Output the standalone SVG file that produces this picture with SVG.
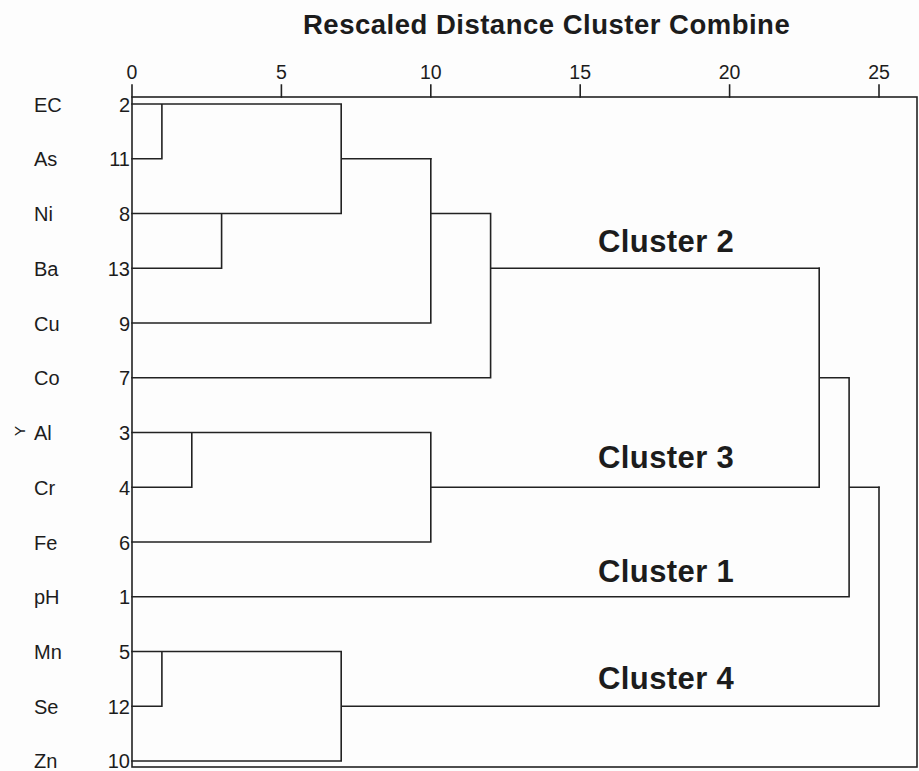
<svg xmlns="http://www.w3.org/2000/svg" width="919" height="771" viewBox="0 0 919 771">
<style>
.bg{fill:#fdfdfd}
.ln{fill:none;stroke:#222;stroke-width:1.6;stroke-linecap:square}
.title{font-family:"Liberation Sans",Arial,sans-serif;font-weight:bold;font-size:27.5px;letter-spacing:0.5px;fill:#1c1c1c}
.tick{font-family:"Liberation Sans",Arial,sans-serif;font-size:19.5px;fill:#1c1c1c;text-anchor:middle}
.lab{font-family:"Liberation Sans",Arial,sans-serif;font-size:20px;fill:#1c1c1c}
.num{font-family:"Liberation Sans",Arial,sans-serif;font-size:20px;fill:#1c1c1c;text-anchor:end}
.cl{font-family:"Liberation Sans",Arial,sans-serif;font-weight:bold;font-size:31px;letter-spacing:0.4px;fill:#1c1c1c}
</style>
<rect class="bg" x="0" y="0" width="919" height="771"/>
<text class="title" x="303" y="34">Rescaled Distance Cluster Combine</text>
<g id="axis">
<rect class="ln" x="132" y="97" width="785" height="670"/>
<path class="ln" d="M132,85V97M281.4,85V97M430.8,85V97M580.2,85V97M729.6,85V97M879,85V97"/>
<text class="tick" x="132" y="79">0</text>
<text class="tick" x="281.4" y="79">5</text>
<text class="tick" x="430.8" y="79">10</text>
<text class="tick" x="580.2" y="79">15</text>
<text class="tick" x="729.6" y="79">20</text>
<text class="tick" x="879" y="79">25</text>
</g>
<text class="lab" transform="translate(25,431) rotate(-90)" text-anchor="middle" style="font-size:15px">Y</text>
<g id="leaf-EC"><text class="lab" x="34" y="111.5">EC</text><text class="num" x="130" y="111.5">2</text></g>
<g id="leaf-As"><text class="lab" x="34" y="166">As</text><text class="num" x="130" y="166">11</text></g>
<g id="leaf-Ni"><text class="lab" x="34" y="221">Ni</text><text class="num" x="130" y="221">8</text></g>
<g id="leaf-Ba"><text class="lab" x="34" y="275.5">Ba</text><text class="num" x="130" y="275.5">13</text></g>
<g id="leaf-Cu"><text class="lab" x="34" y="330.5">Cu</text><text class="num" x="130" y="330.5">9</text></g>
<g id="leaf-Co"><text class="lab" x="34" y="385">Co</text><text class="num" x="130" y="385">7</text></g>
<g id="leaf-Al"><text class="lab" x="34" y="440">Al</text><text class="num" x="130" y="440">3</text></g>
<g id="leaf-Cr"><text class="lab" x="34" y="494.5">Cr</text><text class="num" x="130" y="494.5">4</text></g>
<g id="leaf-Fe"><text class="lab" x="34" y="549.5">Fe</text><text class="num" x="130" y="549.5">6</text></g>
<g id="leaf-pH"><text class="lab" x="34" y="604">pH</text><text class="num" x="130" y="604">1</text></g>
<g id="leaf-Mn"><text class="lab" x="34" y="659">Mn</text><text class="num" x="130" y="659">5</text></g>
<g id="leaf-Se"><text class="lab" x="34" y="713.5">Se</text><text class="num" x="130" y="713.5">12</text></g>
<g id="leaf-Zn"><text class="lab" x="34" y="768">Zn</text><text class="num" x="130" y="768">10</text></g>
<g id="connectors">
<path class="ln" d="M132,104H341.2M132,158.75H161.9V104M132,213.5H341.2M132,268.25H221.6V213.5M341.2,104V213.5M341.2,158.75H430.8"/>
<path class="ln" d="M132,323H430.8M430.8,158.75V323M430.8,213.5H490.6M132,377.75H490.6M490.6,213.5V377.75M490.6,268.25H819.2"/>
<path class="ln" d="M132,432.5H430.8M132,487.25H191.8V432.5M132,542H430.8M430.8,432.5V542M430.8,487.25H819.2"/>
<path class="ln" d="M819.2,268.25V487.25M819.2,377.75H849.1M132,596.75H849.1M849.1,377.75V596.75M849.1,487.25H879"/>
<path class="ln" d="M132,651.5H341.2M132,706.25H161.9V651.5M132,761H341.2M341.2,651.5V761M341.2,706.25H879M879,487.25V706.25"/>
</g>
<g id="cluster-labels">
<text class="cl" x="598" y="252">Cluster 2</text>
<text class="cl" x="598" y="468">Cluster 3</text>
<text class="cl" x="598" y="582">Cluster 1</text>
<text class="cl" x="598" y="689">Cluster 4</text>
</g>
</svg>
